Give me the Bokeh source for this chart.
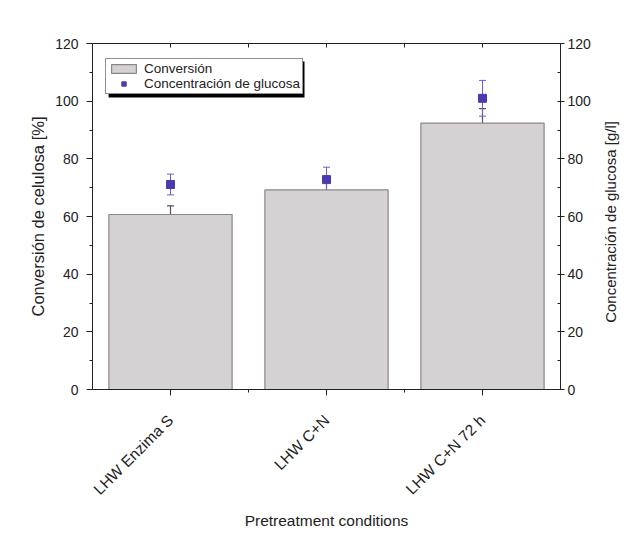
import math
from bokeh.plotting import figure
from bokeh.models import (Range1d, LinearAxis, FixedTicker, ColumnDataSource, Whisker,
                          Legend, LegendItem, BoxAnnotation, TeeHead)
from bokeh.embed import file_html
from bokeh.resources import INLINE

# ---- data ----
categories = ["LHW Enzima S", "LHW C+N", "LHW C+N 72 h"]
conversion = [60.7, 69.2, 92.4]          # Conversión de celulosa [%]
conversion_err = [3.0, 3.9, 5.0]
glucose = [71.1, 72.8, 101.0]            # Concentración de glucosa [g/l]
glucose_err = [3.6, 4.3, 6.2]
y_ticks = [0, 20, 40, 60, 80, 100, 120]
right_title = "Concentración de glucosa [g/l]"

FONT = "Liberation Sans"
INK = "#222222"
xs = list(range(1, len(categories) + 1))
x_lo, x_hi = 0.5, len(categories) + 0.5

src = ColumnDataSource(dict(
    x=xs, conv=conversion,
    conv_up=[v + e for v, e in zip(conversion, conversion_err)],
    conv_lo=[v - e for v, e in zip(conversion, conversion_err)],
    glu=glucose,
    glu_up=[v + e for v, e in zip(glucose, glucose_err)],
    glu_lo=[v - e for v, e in zip(glucose, glucose_err)],
))

p = figure(frame_width=468, frame_height=346, x_range=Range1d(x_lo, x_hi),
           y_range=Range1d(y_ticks[0], y_ticks[-1]),
           output_backend="svg", toolbar_location=None,
           min_border_left=92, min_border_right=65, min_border_top=43, min_border_bottom=139)
p.extra_y_ranges = {"glu": Range1d(y_ticks[0], y_ticks[-1])}
p.xgrid.visible = False
p.ygrid.visible = False
p.outline_line_color = INK
p.background_fill_color = "white"
p.border_fill_color = "white"

bars = p.vbar(x="x", top="conv", width=0.79, source=src,
              fill_color="#d5d2d4", line_color="#8e8587", line_width=1.2)

conv_w = Whisker(base="x", upper="conv_up", lower="conv_lo", source=src,
                 line_color="#555555", line_width=1.2,
                 upper_head=TeeHead(size=7, line_color="#555555", line_width=1.2),
                 lower_head=TeeHead(size=7, line_color="#555555", line_width=1.2))
p.add_layout(conv_w)

glu_w = Whisker(base="x", upper="glu_up", lower="glu_lo", source=src, y_range_name="glu",
                line_color="#6a5fc8", line_width=1,
                upper_head=TeeHead(size=7, line_color="#6a5fc8", line_width=1),
                lower_head=TeeHead(size=7, line_color="#6a5fc8", line_width=1))
p.add_layout(glu_w)

pts = p.scatter(x="x", y="glu", marker="square", size=8, source=src, y_range_name="glu",
                fill_color="#4a3cae", line_color="#4a3cae")

minor_y = [(a + b) / 2 for a, b in zip(y_ticks[:-1], y_ticks[1:])]
minor_x = [x + 0.5 for x in xs[:-1]]

xa = p.xaxis[0]
xa.ticker = FixedTicker(ticks=xs, minor_ticks=minor_x)
xa.major_label_overrides = {x: c for x, c in zip(xs, categories)}
xa.major_label_orientation = math.pi / 4
xa.axis_label = "Pretreatment conditions"

ya = p.yaxis[0]
ya.ticker = FixedTicker(ticks=y_ticks, minor_ticks=minor_y)
ya.axis_label = "Conversión de celulosa [%]"

for ax in (xa, ya):
    ax.axis_line_color = INK
    ax.major_tick_line_color = INK
    ax.minor_tick_line_color = INK
    ax.major_tick_out = 6
    ax.major_tick_in = 0
    ax.minor_tick_out = 3
    ax.minor_tick_in = 0
    ax.major_label_text_font = FONT
    ax.major_label_text_font_size = "14px"
    ax.major_label_text_color = INK
    ax.axis_label_text_font = FONT
    ax.axis_label_text_font_style = "normal"
    ax.axis_label_text_color = INK

xa.major_label_text_font_size = "15.5px"
xa.major_label_standoff = 22
xa.axis_label_text_font_size = "15.5px"
xa.axis_label_standoff = 5
ya.major_label_standoff = 8
ya.axis_label_text_font_size = "16.5px"
ya.axis_label_standoff = 5

# right axis; its label reads bottom-to-top like the reference
ra = LinearAxis(y_range_name="glu", ticker=FixedTicker(ticks=y_ticks, minor_ticks=minor_y))
ra.axis_line_color = INK
ra.major_tick_line_color = INK
ra.minor_tick_line_color = INK
ra.major_tick_out = 4
ra.major_tick_in = 3
ra.minor_tick_out = 0
ra.minor_tick_in = 3
ra.major_label_standoff = 3
ra.major_label_text_font = FONT
ra.major_label_text_font_size = "14px"
ra.major_label_text_color = INK
ra.axis_label_text_font = FONT
ra.axis_label_text_font_style = "normal"
ra.axis_label_text_font_size = "15px"
ra.axis_label_text_color = INK
ra.axis_label_standoff = 17
aligned = False
for al in ("start", "left"):
    try:
        ra.axis_label_align = al
        aligned = True
        break
    except Exception:
        pass
if aligned:
    ra.axis_label_orientation = math.pi / 2
    ra.axis_label = "\u00a0" * 16 + right_title
else:
    ra.axis_label = right_title
    ra.axis_label_standoff = 12
p.add_layout(ra, "right")

ta = LinearAxis(ticker=FixedTicker(ticks=[], minor_ticks=sorted(xs + minor_x)))
ta.axis_line_color = INK
ta.major_tick_line_color = INK
ta.minor_tick_line_color = INK
ta.major_tick_out = 0
ta.major_tick_in = 0
ta.minor_tick_out = 0
ta.minor_tick_in = 4
p.add_layout(ta, "above")

# legend shadow (decoration, in data units)
shadow = BoxAnnotation(left=0.603, right=1.859, top=113.8, bottom=101.3,
                       fill_color="black", fill_alpha=1.0, line_color=None)
p.add_layout(shadow)

legend = Legend(items=[LegendItem(label="Conversión", renderers=[bars]),
                       LegendItem(label="Concentración de glucosa", renderers=[pts])],
                location=(13, 295))
legend.border_line_color = INK
legend.border_line_width = 1
legend.background_fill_color = "white"
legend.background_fill_alpha = 1.0
legend.label_text_font = FONT
legend.label_text_font_size = "13.5px"
legend.label_text_color = INK
legend.glyph_width = 31
legend.glyph_height = 11
legend.label_height = 12
legend.padding = 2
legend.spacing = 0
legend.margin = 0
legend.label_standoff = 5
p.add_layout(legend)

open("out.html", "w").write(file_html(p, INLINE))
